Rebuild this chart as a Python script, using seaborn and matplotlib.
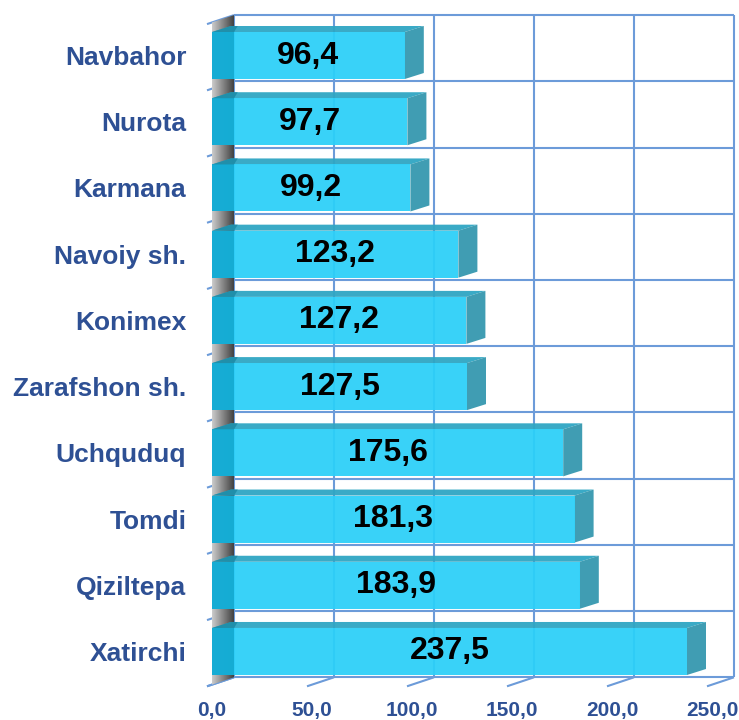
import numpy as np
import pandas as pd
import matplotlib
matplotlib.use("Agg")
import matplotlib.pyplot as plt
import seaborn as sns
from matplotlib.patches import Polygon
from matplotlib.lines import Line2D

# Districts and their values
regions = ["Navbahor", "Nurota", "Karmana", "Navoiy sh.", "Konimex",
           "Zarafshon sh.", "Uchquduq", "Tomdi", "Qiziltepa", "Xatirchi"]
values = [96.4, 97.7, 99.2, 123.2, 127.2, 127.5, 175.6, 181.3, 183.9, 237.5]
value_labels = ["96,4", "97,7", "99,2", "123,2", "127,2", "127,5",
                "175,6", "181,3", "183,9", "237,5"]
x_ticks = [0, 50, 100, 150, 200, 250]
x_tick_labels = ["0,0", "50,0", "100,0", "150,0", "200,0", "250,0"]

FRONT = "#2CD0F8"
TOP = "#2FA6C3"
SIDE = "#3598AF"
STRIPE = "#13A9D1"
STRIPE_TOP = "#1F8DA8"
GRID = "#6C9BD9"
LABEL = "#2E5094"

sns.set_theme(style="white")
plt.rcParams["font.family"] = ["Liberation Sans", "DejaVu Sans"]
plt.rcParams["font.weight"] = "bold"

W, H = 739, 720
fig = plt.figure(figsize=(W / 100, H / 100), dpi=100)
ax_top, ax_bot = 22.4, 684.6
ax = fig.add_axes([212 / W, (H - ax_bot) / H, 500 / W, (ax_bot - ax_top) / H])
ax.patch.set_alpha(0)

df = pd.DataFrame({"region": regions, "value": values})
sns.barplot(data=df, x="value", y="region", orient="h", color=FRONT,
            saturation=1, width=0.71, ax=ax, zorder=3, alpha=0.94,
            linewidth=0)
bars = list(ax.containers[0])

ax.set_xlim(0, 250)
ax.set_ylim(len(regions) - 0.5, -0.5)
ax.set_autoscale_on(False)
for s in ax.spines.values():
    s.set_visible(False)
ax.grid(False)
ax.set_xlabel("")
ax.set_ylabel("")

ax.set_xticks(x_ticks)
ax.set_xticklabels(x_tick_labels)
ax.tick_params(axis="x", length=0, pad=11.5, labelsize=15, labelcolor=LABEL)
ax.tick_params(axis="y", length=0, pad=18.5, labelsize=19, labelcolor=LABEL)

# depth offsets (pixels): bar-front plane -> back wall, -> front floor, bar depth
BACK = (22.0, 7.3)
FLOOR = (-5.0, -1.7)
DEPTH = (19.0, 6.0)

to_fig = fig.transFigure.inverted()


def disp(x, y, off=(0.0, 0.0)):
    p = ax.transData.transform((x, y))
    return np.array([p[0] + off[0], p[1] + off[1]])


def add_line(p1, p2, z=1):
    pts = to_fig.transform(np.array([p1, p2]))
    ax.add_artist(Line2D(pts[:, 0], pts[:, 1], color=GRID, lw=1.5,
                         zorder=z, solid_capstyle="butt",
                         transform=fig.transFigure, clip_on=False))


def add_poly(pts, color, z, alpha=1.0):
    ax.add_artist(Polygon(to_fig.transform(np.array(pts)), closed=True,
                          facecolor=color, edgecolor="none", zorder=z,
                          alpha=alpha, transform=fig.transFigure,
                          clip_on=False))


ymin, ymax = -0.5, len(regions) - 0.5

# back wall grid
for t in x_ticks:
    add_line(disp(t, ymin, BACK), disp(t, ymax, BACK))
    add_line(disp(t, ymax, FLOOR), disp(t, ymax, BACK))
for k in range(len(regions) + 1):
    yb = k - 0.5
    add_line(disp(0, yb, BACK), disp(250, yb, BACK))
    add_line(disp(0, yb, FLOOR), disp(0, yb, BACK))

# left side wall with a gray gradient
n_strips = 22
for i in range(n_strips):
    f0, f1 = i / n_strips, (i + 1) / n_strips
    o0 = (BACK[0] * f0, BACK[1] * f0)
    o1 = (BACK[0] * f1, BACK[1] * f1)
    g = 0.80 - 0.55 * (i + 0.5) / n_strips
    add_poly([disp(0, ymin, o0), disp(0, ymin, o1),
              disp(0, ymax, o1), disp(0, ymax, o0)], (g, g, g), 1.5)

# bar faces
for p in bars:
    x0, y0, w, h = p.get_x(), p.get_y(), p.get_width(), p.get_height()
    a = disp(x0, y0)
    b = disp(x0 + w, y0 + h)
    xl, xr = min(a[0], b[0]), max(a[0], b[0])
    yt, yb = max(a[1], b[1]), min(a[1], b[1])
    dx, dy = DEPTH
    add_poly([(xl, yt), (xr, yt), (xr + dx, yt + dy), (xl + dx, yt + dy)],
             TOP, 2.5, 0.95)
    add_poly([(xr, yt), (xr, yb), (xr + dx, yb + dy), (xr + dx, yt + dy)],
             SIDE, 2.5, 0.95)
    sw = BACK[0]
    add_poly([(xl, yt), (xl + sw, yt), (xl + sw, yb), (xl, yb)],
             STRIPE, 4, 0.9)
    add_poly([(xl, yt), (xl + sw, yt), (xl + sw + dx * 0.2, yt + dy),
              (xl + dx, yt + dy)], STRIPE_TOP, 4, 0.9)

ax.bar_label(ax.containers[0], labels=value_labels, label_type="center",
             fontsize=23, fontweight="bold", color="black", zorder=6)
for t in ax.texts:
    t.set_zorder(6)

fig.savefig("out.png", dpi=100)
